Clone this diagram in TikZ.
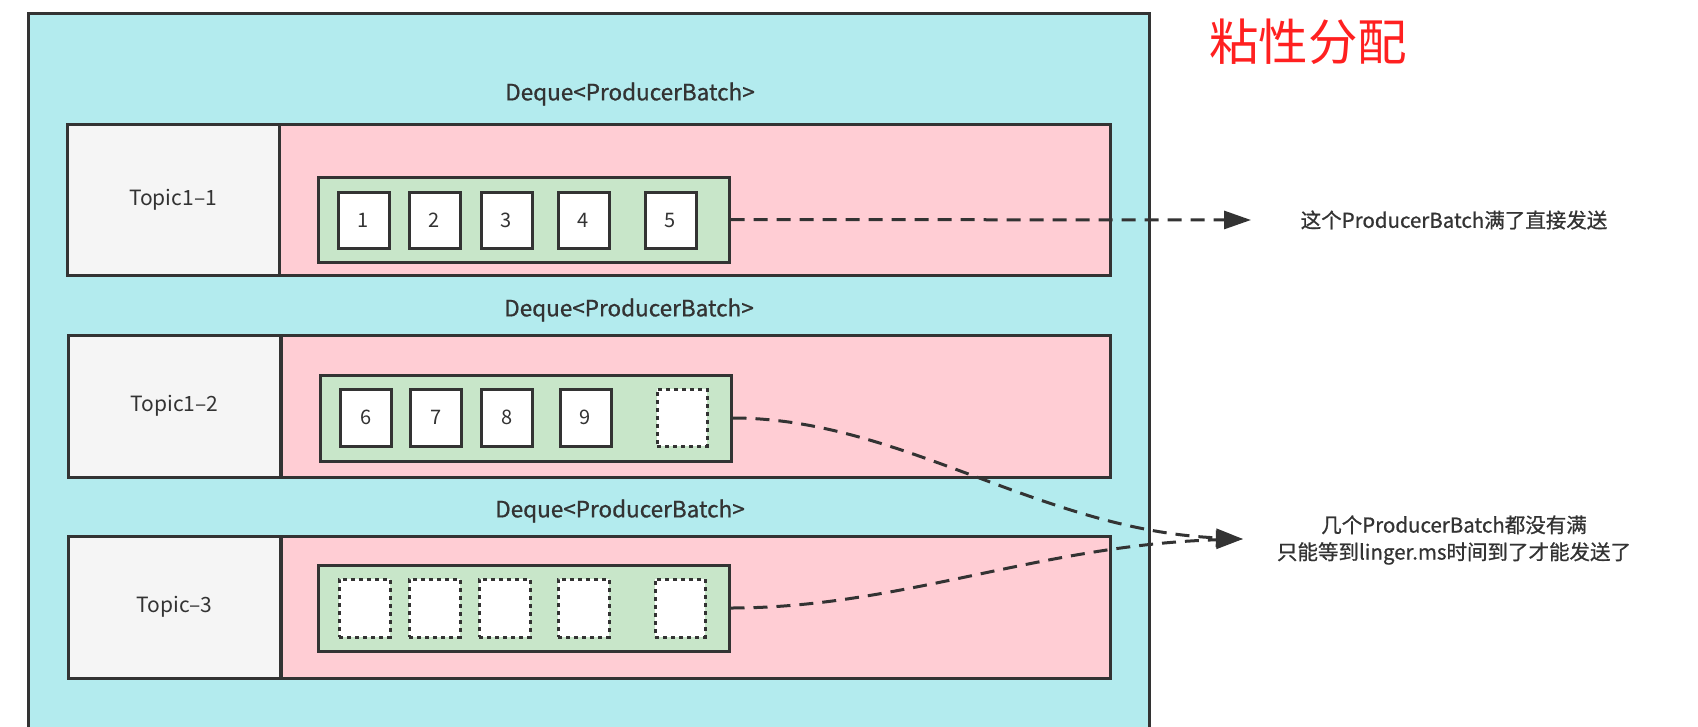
\documentclass[tikz,border=0pt]{standalone}
\usepackage{fontspec}
\setmainfont{Noto Sans CJK SC}
\newfontfamily\medfont[FakeBold=0.8]{Noto Sans CJK SC}
\usetikzlibrary{arrows.meta}
\definecolor{cyanbg}{RGB}{179,235,238}
\definecolor{pinkbg}{RGB}{255,205,212}
\definecolor{graybg}{RGB}{245,245,245}
\definecolor{greenbg}{RGB}{200,230,201}
\definecolor{ink}{RGB}{51,51,51}
\definecolor{redtitle}{RGB}{255,32,32}
\tikzset{
  box/.style={draw=ink, line width=3pt, inner sep=0pt},
  topicbox/.style={box, fill=graybg, minimum width=212pt, font=\fontsize{21}{24}\selectfont, text=ink},
  queuebox/.style={box, fill=pinkbg},
  batchbox/.style={box, fill=greenbg, minimum width=411pt, minimum height=86pt},
  cell/.style={box, fill=white, minimum width=51pt, minimum height=57pt, font=\fontsize{20}{22}\selectfont, text=ink},
  emptycell/.style={cell, dash pattern=on 4pt off 4pt},
  dequelabel/.style={font=\medfont\fontsize{22.5}{25}\selectfont, text=ink},
  note/.style={font=\medfont\fontsize{20.5}{27}\selectfont, text=ink, align=center},
  flow/.style={draw=ink, line width=3pt, dash pattern=on 14pt off 9pt, -{Triangle[length=27pt,width=18pt]}},
}
\begin{document}
\begin{tikzpicture}[x=1pt,y=-1pt]
\useasboundingbox (0,0) rectangle (1698,726);
\begin{scope}
\clip (0,0) rectangle (1698,726);
\node[box, fill=cyanbg, minimum width=1121pt, minimum height=740pt, anchor=north west] (outer) at (27,12) {};
\end{scope}

% row 1
\node[topicbox, minimum height=151pt] (t1) at (173,199.5) {Topic1–1};
\node[queuebox, minimum width=831pt, minimum height=151pt] (q1) at (694.5,199.5) {};
\node[batchbox, minimum height=85pt] (b1) at (523.5,219.5) {};
\node[cell, minimum height=56pt] (c1) at (363.5,220) {1};
\node[cell, minimum height=56pt] (c2) at (434.5,220) {2};
\node[cell, minimum height=56pt] (c3) at (506.5,220) {3};
\node[cell, minimum height=56pt] (c4) at (583.5,220) {4};
\node[cell, minimum height=56pt] (c5) at (670.5,220) {5};
\node[dequelabel] (d1) at (630,94) {Deque<ProducerBatch>};

% row 2
\node[topicbox, minimum height=142pt] (t2) at (174.5,406) {Topic1–2};
\node[queuebox, minimum width=829pt, minimum height=142pt] (q2) at (695.5,406) {};
\node[batchbox] (b2) at (525.5,418) {};
\node[cell] (c6) at (366,417.5) {6};
\node[cell] (c7) at (436,417.5) {7};
\node[cell] (c8) at (507,417.5) {8};
\node[cell] (c9) at (585.5,417.5) {9};
\node[emptycell, minimum width=50pt] (c10) at (682,417.5) {};
\node[dequelabel] (d2) at (629,310) {Deque<ProducerBatch>};

% row 3
\node[topicbox, minimum height=142pt] (t3) at (174.5,607) {Topic–3};
\node[queuebox, minimum width=829pt, minimum height=142pt] (q3) at (695.5,607) {};
\node[batchbox] (b3) at (523.5,608) {};
\node[emptycell, minimum height=58pt] (e1) at (364.5,608) {};
\node[emptycell, minimum height=58pt] (e2) at (434.5,608) {};
\node[emptycell, minimum height=58pt] (e3) at (504.5,608) {};
\node[emptycell, minimum height=58pt] (e4) at (583.5,608) {};
\node[emptycell, minimum height=58pt, minimum width=50pt] (e5) at (680,608) {};
\node[dequelabel] (d3) at (620,511) {Deque<ProducerBatch>};

% right side
\node[font=\fontsize{49.5}{54}\selectfont, text=redtitle] (title) at (1308,42) {粘性分配};
\node[note] (n1) at (1454,220) {这个ProducerBatch满了直接发送};
\node[note] (n2) at (1454,540) {几个ProducerBatch都没有满\\只能等到linger.ms时间到了才能发送了};
\coordinate (tip1) at (1251,220);
\coordinate (tip2) at (1243,539);

\draw[flow] (b1.east) -- (tip1);
\draw[flow] (b2.east) .. controls (900,418) and (1040,530) .. (tip2);
\draw[flow] (b3.east) .. controls (900,608) and (1040,545) .. (tip2);
\end{tikzpicture}
\end{document}
